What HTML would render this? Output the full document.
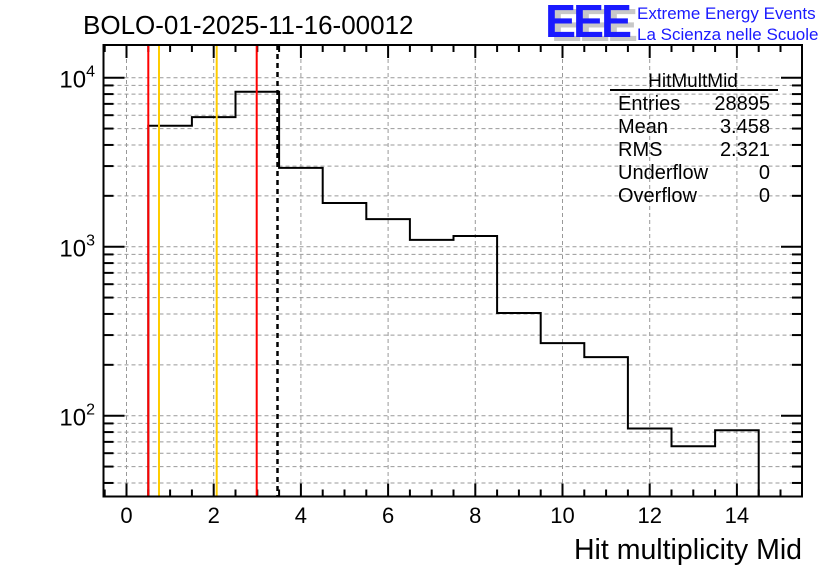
<!DOCTYPE html>
<html><head><meta charset="utf-8"><style>
html,body{margin:0;padding:0;background:#fff;}
svg{display:block;font-family:"Liberation Sans",Arial,sans-serif;}
</style></head><body>
<svg id="s" width="836" height="572" viewBox="0 0 836 572" xmlns="http://www.w3.org/2000/svg"></svg>
<script>
const s=document.getElementById('s');
const L=103.5,R=802,T=45,B=496.5;
const X=v=>126.5+v*43.6;
const Y=v=>77.7-(Math.log10(v)-4)*169;
let h='';
for(let v=0;v<=14;v+=2){h+=`<line x1="${X(v)}" y1="${T}" x2="${X(v)}" y2="${B}" stroke="#999" stroke-dasharray="4,3" stroke-width="1"/>`;}
for(let d=1;d<=4;d++)for(let m=1;m<=9;m++){const v=m*Math.pow(10,d);const y=Y(v);if(y<T||y>B)continue;
h+=`<line x1="${L}" y1="${y}" x2="${R}" y2="${y}" stroke="#999" stroke-dasharray="4,3" stroke-width="1"/>`;
const len=m==1?21:10;
h+=`<line x1="${L}" y1="${y}" x2="${L+len}" y2="${y}" stroke="#000" stroke-width="2"/>`;
h+=`<line x1="${R}" y1="${y}" x2="${R-len}" y2="${y}" stroke="#000" stroke-width="2"/>`;}
for(let v=-0.5;v<=15.5;v+=0.5){const x=X(v);if(x<L||x>R)continue;const len=(Math.abs(v%2)<1e-6)?13:7;
h+=`<line x1="${x}" y1="${B}" x2="${x}" y2="${B-len}" stroke="#000" stroke-width="2"/>`;
h+=`<line x1="${x}" y1="${T}" x2="${x}" y2="${T+len}" stroke="#000" stroke-width="2"/>`;}
const vals=[5200,5840,8260,2925,1815,1455,1097,1156,405,269,222,84,66,82];
let p=`M${X(0.5)},${B} `;
vals.forEach((v,i)=>{p+=`L${X(i+0.5)},${Y(v)} L${X(i+1.5)},${Y(v)} `;});
p+=`L${X(14.5)},${B}`;
h+=`<path d="${p}" fill="none" stroke="#000" stroke-width="2"/>`;
h+=`<line x1="148.3" y1="${T}" x2="148.3" y2="${B}" stroke="#f00" stroke-width="2"/>`;
h+=`<line x1="256.7" y1="${T}" x2="256.7" y2="${B}" stroke="#f00" stroke-width="2"/>`;
h+=`<line x1="159" y1="${T}" x2="159" y2="${B}" stroke="#fc0" stroke-width="2"/>`;
h+=`<line x1="216.7" y1="${T}" x2="216.7" y2="${B}" stroke="#fc0" stroke-width="2"/>`;
h+=`<line x1="277.5" y1="${T}" x2="277.5" y2="${B}" stroke="#000" stroke-width="2.5" stroke-dasharray="5,4"/>`;
h+=`<rect x="${L}" y="${T}" width="${R-L}" height="${B-T}" fill="none" stroke="#000" stroke-width="2"/>`;
for(let v=0;v<=14;v+=2)h+=`<text x="${X(v)}" y="523" font-size="22" text-anchor="middle">${v}</text>`;
[[4,77.7],[3,246.7],[2,415.7]].forEach(([e,y])=>{h+=`<text x="95" y="${y+10}" font-size="24" text-anchor="end">10<tspan dy="-11" font-size="16">${e}</tspan></text>`;});
h+=`<text x="693" y="87" font-size="19" text-anchor="middle">HitMultMid</text>`;
h+=`<line x1="610" y1="90" x2="778" y2="90" stroke="#000" stroke-width="2"/>`;
const rows=[["Entries","28895"],["Mean","3.458"],["RMS","2.321"],["Underflow","0"],["Overflow","0"]];
rows.forEach((r,i)=>{const y=110+i*23;h+=`<text x="618" y="${y}" font-size="20">${r[0]}</text><text x="770" y="${y}" font-size="20" text-anchor="end">${r[1]}</text>`;});
h+=`<text x="83" y="34" font-size="26">BOLO-01-2025-11-16-00012</text>`;
h+=`<text x="802" y="559" font-size="28.5" text-anchor="end">Hit multiplicity Mid</text>`;
h+=`<text x="551" y="41" font-size="46" font-weight="bold" fill="#c8c8c8" letter-spacing="-3" textLength="84" lengthAdjust="spacingAndGlyphs">EEE</text>`;
h+=`<text x="545" y="37" font-size="46" font-weight="bold" fill="#1a1aff" letter-spacing="-3" textLength="84" lengthAdjust="spacingAndGlyphs">EEE</text>`;
h+=`<text x="637" y="19" font-size="17" fill="#1a1aff">Extreme Energy Events</text>`;
h+=`<text x="637" y="40" font-size="17" fill="#1a1aff">La Scienza nelle Scuole</text>`;
s.innerHTML=h;
</script>
</body></html>
